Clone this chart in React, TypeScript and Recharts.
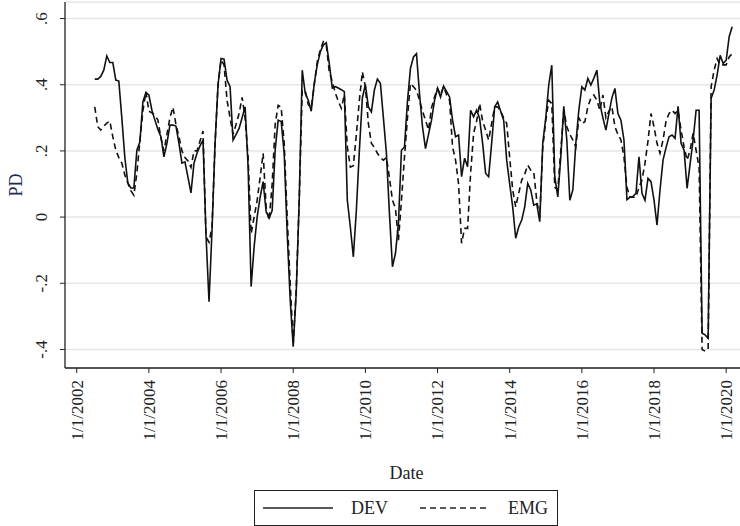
import { LineChart, Line, XAxis, YAxis, CartesianGrid } from 'recharts';

// months counted from Jan 2002; first observation is Jul 2002
const firstMonth = 6;

const dev = [
  0.417, 0.417, 0.425, 0.444, 0.487, 0.467, 0.467, 0.414, 0.411, 0.30, 0.18, 0.103,
  0.088, 0.088, 0.202, 0.227, 0.348, 0.376, 0.369, 0.323, 0.293, 0.265, 0.243, 0.182,
  0.223, 0.278, 0.278, 0.275, 0.223, 0.163, 0.167, 0.12, 0.073, 0.163, 0.193, 0.215,
  0.233, -0.054, -0.256, -0.039, 0.22, 0.40, 0.479, 0.477, 0.414, 0.394, 0.233, 0.25,
  0.268, 0.30, 0.333, 0.152, -0.21, -0.09, 0.0, 0.06, 0.107, 0.016, -0.003, 0.02,
  0.202, 0.293, 0.289, 0.193, -0.049, -0.25, -0.392, -0.23, 0.051, 0.444, 0.374, 0.353,
  0.32, 0.404, 0.46, 0.499, 0.52, 0.527, 0.464, 0.39, 0.394, 0.39, 0.385, 0.379,
  0.051, -0.03, -0.12, 0.02, 0.2, 0.36, 0.40, 0.333, 0.318, 0.384, 0.417, 0.404,
  0.30, 0.193, 0.012, -0.15, -0.11, -0.019, 0.202, 0.212, 0.35, 0.45, 0.484, 0.494,
  0.374, 0.273, 0.207, 0.25, 0.293, 0.353, 0.389, 0.363, 0.396, 0.38, 0.363, 0.293,
  0.243, 0.248, 0.122, 0.178, 0.152, 0.323, 0.303, 0.323, 0.298, 0.223, 0.132, 0.122,
  0.223, 0.333, 0.348, 0.32, 0.293, 0.172, 0.10, 0.031, -0.064, -0.03, -0.009, 0.031,
  0.102, 0.082, 0.036, 0.04, -0.014, 0.223, 0.30, 0.40, 0.459, 0.122, 0.061, 0.182,
  0.335, 0.233, 0.051, 0.082, 0.223, 0.323, 0.394, 0.384, 0.419, 0.399, 0.42, 0.444,
  0.343, 0.30, 0.263, 0.313, 0.36, 0.389, 0.313, 0.293, 0.233, 0.053, 0.06, 0.062,
  0.072, 0.182, 0.072, 0.051, 0.117, 0.107, 0.051, -0.024, 0.082, 0.172, 0.21, 0.243,
  0.248, 0.238, 0.335, 0.223, 0.202, 0.087, 0.16, 0.233, 0.323, 0.323, -0.351, -0.356,
  -0.366, 0.359, 0.384, 0.43, 0.489, 0.464, 0.474, 0.545, 0.575,
];

const emg = [
  0.333, 0.273, 0.263, 0.275, 0.284, 0.29, 0.243, 0.202, 0.18, 0.163, 0.127, 0.103,
  0.08, 0.066, 0.133, 0.23, 0.32, 0.379, 0.32, 0.315, 0.308, 0.293, 0.24, 0.20,
  0.25, 0.30, 0.332, 0.28, 0.243, 0.20, 0.18, 0.17, 0.15, 0.20, 0.20, 0.23,
  0.26, -0.06, -0.076, -0.03, 0.22, 0.40, 0.475, 0.46, 0.353, 0.30, 0.25, 0.28,
  0.313, 0.362, 0.30, 0.18, -0.05, 0.0, 0.05, 0.12, 0.193, 0.03, -0.01, 0.10,
  0.28, 0.338, 0.332, 0.223, 0.0, -0.2, -0.38, -0.22, 0.05, 0.383, 0.383, 0.34,
  0.33, 0.40, 0.47, 0.505, 0.53, 0.52, 0.439, 0.41, 0.375, 0.35, 0.329, 0.37,
  0.212, 0.151, 0.155, 0.25, 0.353, 0.439, 0.394, 0.283, 0.223, 0.21, 0.193, 0.18,
  0.172, 0.18, 0.12, 0.051, 0.027, -0.07, 0.05, 0.18, 0.30, 0.404, 0.394, 0.383,
  0.353, 0.32, 0.293, 0.263, 0.33, 0.363, 0.389, 0.37, 0.394, 0.37, 0.353, 0.212,
  0.172, 0.1, -0.079, -0.034, -0.034, 0.132, 0.253, 0.29, 0.343, 0.29, 0.263, 0.233,
  0.283, 0.333, 0.333, 0.32, 0.30, 0.283, 0.18, 0.082, 0.031, 0.072, 0.112, 0.13,
  0.157, 0.142, 0.137, 0.05, 0.0, 0.21, 0.293, 0.353, 0.343, 0.09, 0.082, 0.2,
  0.323, 0.273, 0.25, 0.233, 0.212, 0.30, 0.283, 0.288, 0.333, 0.36, 0.369, 0.353,
  0.323, 0.369, 0.30, 0.32, 0.333, 0.273, 0.25, 0.233, 0.182, 0.09, 0.06, 0.06,
  0.06, 0.09, 0.112, 0.163, 0.23, 0.313, 0.273, 0.223, 0.193, 0.233, 0.29, 0.313,
  0.323, 0.313, 0.323, 0.263, 0.212, 0.172, 0.202, 0.253, 0.202, 0.15, -0.40, -0.405,
  -0.40, 0.394, 0.444, 0.479, 0.46, 0.46, 0.46, 0.484, 0.494,
];

const tickYears = [2002, 2004, 2006, 2008, 2010, 2012, 2014, 2016, 2018, 2020];
const yTicks = [-0.4, -0.2, 0, 0.2, 0.4, 0.6];

const data = dev.map((v, i) => ({ m: firstMonth + i, dev: v, emg: emg[i] }));
const xTicks = tickYears.map((y) => (y - 2002) * 12);

const font = '"Liberation Serif", "Times New Roman", serif';
const ink = '#222';

const fmtY = (v: number) =>
  v === 0 ? '0' : (v < 0 ? '-' : '') + Math.abs(v).toFixed(1).replace(/^0/, '');

function XTick({ x, y, payload }: any) {
  const ax = x;
  const ay = y + 5;
  return (
    <text
      x={ax}
      y={ay}
      transform={`rotate(-90, ${ax}, ${ay})`}
      textAnchor="end"
      dy="0.35em"
      fontFamily={font}
      fontSize={17}
      fill={ink}
    >
      {`1/1/${2002 + payload.value / 12}`}
    </text>
  );
}

function YTick({ x, y, payload }: any) {
  const bx = x - 11;
  return (
    <text
      x={bx}
      y={y}
      transform={`rotate(-90, ${bx}, ${y})`}
      textAnchor="middle"
      fontFamily={font}
      fontSize={17}
      fill={ink}
    >
      {fmtY(payload.value)}
    </text>
  );
}

export default function App() {
  return (
    <div style={{ position: 'absolute', left: 0, top: 0, width: 740, height: 526, background: '#fff' }}>
      <LineChart width={740} height={526} data={data} margin={{ top: 2, right: 0, bottom: 0, left: 0 }}>
        <CartesianGrid vertical={false} stroke="#e6e6e6" strokeWidth={1.5} />
        <XAxis
          dataKey="m"
          type="number"
          domain={[-3.9, 220.6]}
          allowDataOverflow
          ticks={xTicks}
          interval={0}
          height={158}
          tickSize={5}
          tick={<XTick />}
          axisLine={{ stroke: ink, strokeWidth: 1.3 }}
          tickLine={{ stroke: ink }}
          label={{ value: 'Date', position: 'insideBottom', offset: 47, dx: 4, fontFamily: font, fontSize: 18, fill: ink }}
        />
        <YAxis
          type="number"
          domain={[-0.456, 0.65]}
          allowDataOverflow
          ticks={yTicks}
          width={65}
          tickSize={5}
          tick={<YTick />}
          axisLine={{ stroke: ink, strokeWidth: 1.3 }}
          tickLine={{ stroke: ink }}
          label={{
            content: () => (
              <text x={16} y={185} transform="rotate(-90, 16, 185)" textAnchor="middle" dy="0.35em" fontFamily={font} fontSize={18} fill="#1c2a55">
                PD
              </text>
            ),
          }}
        />
        <Line dataKey="dev" stroke="#111" strokeWidth={1.6} dot={false} isAnimationActive={false} />
        <Line dataKey="emg" stroke="#111" strokeWidth={1.6} strokeDasharray="6 4" dot={false} isAnimationActive={false} />
      </LineChart>
      <div
        style={{
          position: 'absolute', left: 254, top: 490, width: 302, height: 34,
          border: `1px solid ${ink}`, fontFamily: font, fontSize: 18, color: ink,
          display: 'flex', alignItems: 'center', boxSizing: 'content-box',
        }}
      >
        <svg width={70} height={10} style={{ marginLeft: 8 }}>
          <line x1={0} y1={5} x2={70} y2={5} stroke={ink} strokeWidth={1.4} />
        </svg>
        <span style={{ marginLeft: 18 }}>DEV</span>
        <svg width={70} height={10} style={{ marginLeft: 32 }}>
          <line x1={0} y1={5} x2={70} y2={5} stroke={ink} strokeWidth={1.4} strokeDasharray="6 4" />
        </svg>
        <span style={{ marginLeft: 18 }}>EMG</span>
      </div>
    </div>
  );
}
